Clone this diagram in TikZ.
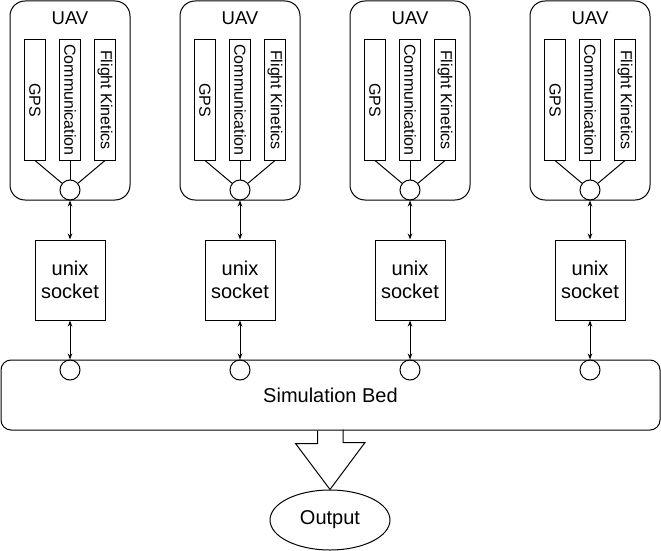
\documentclass[tikz,border=0pt]{standalone}
\usepackage{fontspec}
\setmainfont{Liberation Sans}
\usetikzlibrary{positioning, arrows.meta, shapes.geometric}

\tikzset{
    uavbox/.style={draw, rounded corners=15pt, minimum width=120pt, minimum height=199pt},
    modbox/.style={draw, minimum width=21pt, minimum height=120pt, inner sep=0pt,
        font=\fontsize{16}{19}\selectfont},
    hub/.style={draw, circle, minimum size=20pt, inner sep=0pt},
    sockbox/.style={draw, minimum width=70pt, minimum height=80pt, align=center,
        font=\fontsize{20}{23}\selectfont},
    link/.style={{Stealth[length=6pt,width=4.5pt]}-{Stealth[length=6pt,width=4.5pt]}},
    big/.style={font=\fontsize{20}{24}\selectfont}
}

\begin{document}
\begin{tikzpicture}[x=1pt, y=-1pt, line width=1pt]
    \useasboundingbox (0,0) rectangle (661,551);

    % Simulation bed
    \node[draw, rounded corners=10pt, minimum width=659pt, minimum height=70pt, big]
        (bed) at (330.5,395) {Simulation Bed};

    % UAV columns
    \foreach \i/\cx in {1/70, 2/240, 3/410, 4/590} {
        \node[uavbox] (uav\i) at (\cx,100.5) {};
        \node[inner sep=0pt, font=\fontsize{18.5}{22}\selectfont] (title\i) at (\cx,18) {UAV};
        \node[modbox] (gps\i) at (\cx-35,100) {\rotatebox{-90}{GPS}};
        \node[modbox] (comm\i) at (\cx,100) {\rotatebox{-90}{Communication}};
        \node[modbox] (fk\i) at (\cx+35,100) {\rotatebox{-90}{Flight Kinetics}};
        \node[hub] (hub\i) at (\cx,190) {};
        \draw (gps\i.south) -- (hub\i);
        \draw (comm\i.south) -- (hub\i);
        \draw (fk\i.south) -- (hub\i);

        \node[sockbox] (sock\i) at (\cx,280) {unix\\socket};
        \node[hub] (port\i) at (\cx,370) {};
        \draw[link] (hub\i) -- (sock\i);
        \draw[link] (sock\i) -- (port\i);
    }

    % Output
    \node[draw, ellipse, minimum width=120pt, minimum height=60pt, inner sep=0pt, big]
        (out) at (330,520) {Output};
    \draw (bed.south) ++(-13,0) -- ++(0,13) -- ++(-22,0) -- (out.north)
        -- ++(35,-47) -- ++(-22,0) -- ++(0,-13);
\end{tikzpicture}
\end{document}
